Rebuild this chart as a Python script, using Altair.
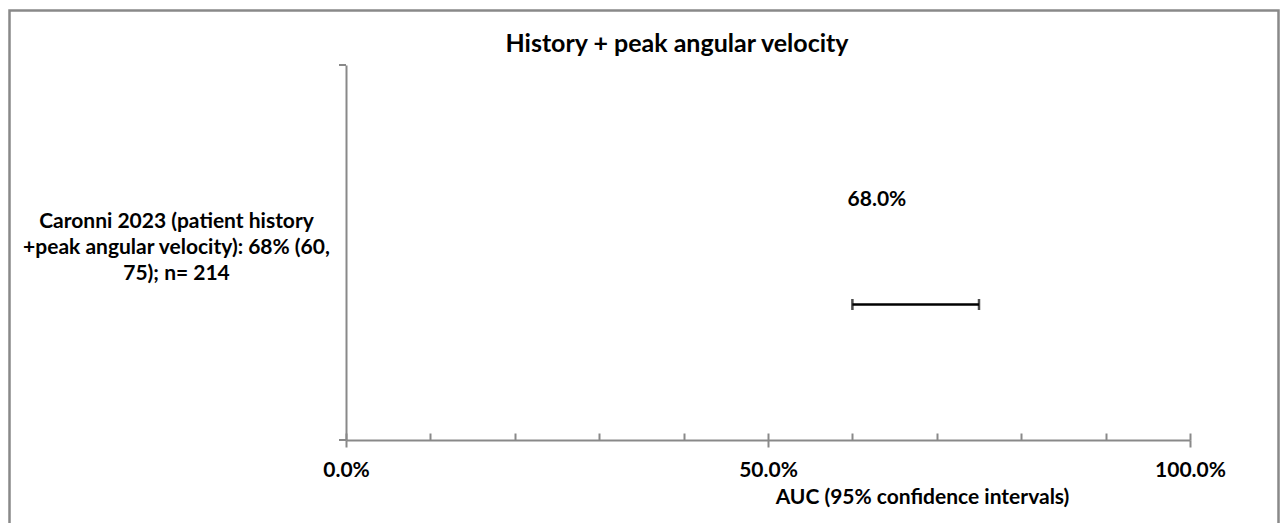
import altair as alt
import pandas as pd

# ---- data ----
studies = ["Caronni 2023 (patient history\n+peak angular velocity): 68% (60,\n75); n= 214"]
auc = [0.68]
lower = [0.60]
upper = [0.75]
major_ticks = [0.0, 0.5, 1.0]
minor_ticks = [0.0, 0.1, 0.2, 0.3, 0.4, 0.5, 0.6, 0.7, 0.8, 0.9, 1.0]
chart_title = ["History + peak angular velocity"]
x_title = "AUC (95% confidence intervals)"

df = pd.DataFrame({"study": studies, "auc": auc, "lo": lower, "hi": upper})
title_df = pd.DataFrame({"title": chart_title})

FONT = "Lato"
GRAY = "#898989"
xscale = alt.Scale(domain=[0, 1], nice=False, zero=False)

yenc = alt.Y(
    "study:N",
    title=None,
    axis=alt.Axis(
        ticks=False, tickSize=0, domainColor=GRAY, domainWidth=2, grid=False,
        labelAlign="center", labelBaseline="middle", labelPadding=170,
        labelFont=FONT, labelFontWeight="bold", labelFontSize=21,
        labelColor="#000000", labelLimit=500, labelLineHeight=26,
        labelExpr="split(datum.label, '\\n')", labelOffset=-31,
    ),
)

base = alt.Chart(df)

ci = base.mark_rule(color="#000000", strokeWidth=2.5, yOffset=52).encode(
    x=alt.X(
        "lo:Q", scale=xscale, title=x_title,
        axis=alt.Axis(
            orient="bottom",
            values=major_ticks, format=".1%", tickSize=7, tickColor=GRAY,
            tickWidth=2, domainColor=GRAY, domainWidth=2, grid=False,
            labelFlush=False, labelOverlap=False, labelPadding=12,
            labelFont=FONT, labelFontWeight="bold", labelFontSize=21,
            labelColor="#000000",
            titleFont=FONT, titleFontWeight="bold", titleFontSize=21,
            titleColor="#000000", titleX=576, titleY=57,
            titleAlign="center", titleBaseline="middle",
        ),
    ),
    x2="hi:Q",
    y=yenc,
)

cap_lo = base.mark_tick(color="#000000", thickness=2.5, size=11, yOffset=52).encode(
    x=alt.X("lo:Q", scale=xscale, axis=None), y=yenc
)
cap_hi = base.mark_tick(color="#000000", thickness=2.5, size=11, yOffset=52).encode(
    x=alt.X("hi:Q", scale=xscale, axis=None), y=yenc
)

label = base.mark_text(
    font=FONT, fontWeight="bold", fontSize=21, color="#000000",
    dx=-43, yOffset=-53, baseline="middle",
).encode(
    x=alt.X("auc:Q", scale=xscale, axis=None),
    y=yenc,
    text=alt.Text("auc:Q", format=".1%"),
)

minor = base.mark_point(opacity=0).encode(
    x=alt.X(
        "auc:Q", scale=xscale,
        axis=alt.Axis(
            values=minor_ticks, offset=-7, tickSize=7, tickColor=GRAY,
            tickWidth=2, labels=False, domain=False, grid=False, title=None,
            orient="bottom",
        ),
    ),
    y=yenc,
)

border = base.mark_rect(
    fillOpacity=0, stroke=GRAY, strokeWidth=2.5, clip=False
).encode(
    x=alt.value(-336.5), x2=alt.value(932.5),
    y=alt.value(-54.5), y2=alt.value(480),
)

title_mark = alt.Chart(title_df).mark_text(
    font=FONT, fontWeight="bold", fontSize=25, color="#000000",
    align="center", baseline="alphabetic",
).encode(x=alt.value(331), y=alt.value(-13), text="title:N")

ytop_tick = base.mark_rule(color=GRAY, strokeWidth=2).encode(
    x=alt.value(-7), x2=alt.value(0), y=alt.value(0)
)
xleft_ext = base.mark_rule(color=GRAY, strokeWidth=2).encode(
    x=alt.value(-7), x2=alt.value(0), y=alt.value(375)
)

chart = (
    alt.layer(border, minor, ci, cap_lo, cap_hi, label, title_mark, ytop_tick, xleft_ext)
    .resolve_axis(x="independent")
    .properties(
        width=844,
        height=375,
        padding={"left": 338, "top": 57, "right": 90, "bottom": 83},
        autosize=alt.AutoSizeParams(type="none"),
    )
    .configure_view(stroke="#ffffff", strokeWidth=0, fill="#ffffff")
    .configure(background="#ffffff", style={"cell": {"stroke": "#ffffff", "strokeWidth": 0}})
)

chart.save("out.html", embed_options={"renderer": "svg", "actions": False})
